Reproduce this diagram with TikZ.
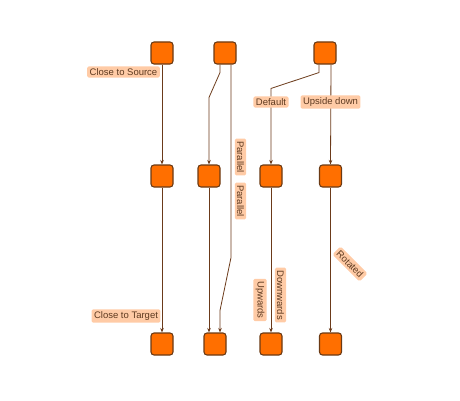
\documentclass[tikz,border=0pt]{standalone}
\usepackage{fontspec}
\setmainfont{Liberation Sans}
\usetikzlibrary{arrows.meta}
\definecolor{boxfill}{HTML}{FF6F00}
\definecolor{boxdraw}{HTML}{6B3A14}
\definecolor{edgecol}{HTML}{6B3A1A}
\definecolor{lblfill}{HTML}{FFCBA6}
\definecolor{lbltext}{HTML}{5E3A20}
\tikzset{
  box/.style={draw=boxdraw, fill=boxfill, line width=1.1pt, rounded corners=3pt,
    minimum width=22pt, minimum height=22pt, inner sep=0pt},
  edge/.style={draw=edgecol, line width=0.8pt, -{Stealth[length=4.5pt,width=3.5pt]}},
  lbl/.style={fill=lblfill, text=lbltext, rounded corners=1.5pt, inner xsep=2.5pt, inner ysep=2.2pt,
    font=\fontsize{9.5}{11}\selectfont}
}
\begin{document}
\begin{tikzpicture}[x=1pt,y=1pt]
\useasboundingbox (0,0) rectangle (460,400);
% nodes
\node[box] (A1) at (162,347) {};
\node[box] (A2) at (225,347) {};
\node[box] (A4) at (325,347) {};
\node[box] (B1) at (162,224) {};
\node[box] (B2) at (209,224) {};
\node[box] (B3) at (271,224) {};
\node[box] (B4) at (330.5,224) {};
\node[box] (C1) at (162,56) {};
\node[box] (C2) at (215,56) {};
\node[box] (C3) at (271,56) {};
\node[box] (C4) at (330.5,56) {};
% edges
\draw[edge] (A1) -- (B1);
\draw[edge] ([xshift=-5pt]A2.south) -- ++(0,-8) -- ([yshift=67pt]B2.north) -- (B2.north);
\draw[edge] ([xshift=6pt]A2.south) -- ++(0,-193) -- ([xshift=5pt,yshift=22pt]C2.north) -- ([xshift=5pt]C2.north);
\draw[edge] ([xshift=-6pt]A4.south) -- ++(0,-8) -- ([yshift=76pt]B3.north) -- (B3.north);
\draw[edge] ([xshift=6pt]A4.south) -- (B4.north);
\draw[edge] (B1) -- (C1);
\draw[edge] (B2.south) -- ([xshift=-6pt]C2.north);
\draw[edge] (B3) -- (C3);
\draw[edge] (B4) -- (C4);
% labels
\node[lbl] (l1) at (123.5,328) {Close to Source};
\node[lbl] (l2) at (126,84) {Close to Target};
\node[lbl] (l3) at (271,298) {Default};
\node[lbl] (l4) at (330.5,298) {Upside down};
\node[lbl, rotate=-90] (l5) at (240.5,243) {Parallel};
\node[lbl, rotate=-90] (l6) at (240.5,199) {Parallel};
\node[lbl, rotate=-90] (l7) at (260,100) {Upwards};
\node[lbl, rotate=-90] (l8) at (280.5,105) {Downwards};
\node[lbl, rotate=-45] (l9) at (350,136) {Rotated};
\end{tikzpicture}
\end{document}
